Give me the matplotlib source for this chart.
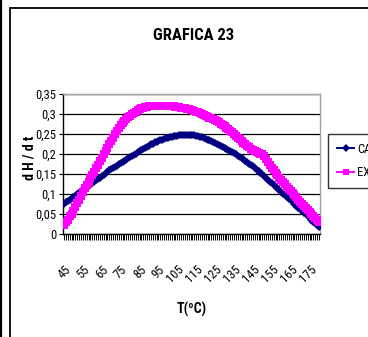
import matplotlib
matplotlib.use("Agg")
import matplotlib.pyplot as plt
from matplotlib import font_manager
from matplotlib.font_manager import FontProperties
from matplotlib.patches import Rectangle
from matplotlib.lines import Line2D

# Temperatures (ºC), one reading per degree
temps = list(range(45, 181))

# Calculated dH/dt
calculada = [
    0.075, 0.079, 0.082, 0.086, 0.089,
    0.093, 0.096, 0.100, 0.103, 0.107,
    0.110, 0.113, 0.117, 0.120, 0.124,
    0.127, 0.131, 0.134, 0.138, 0.141,
    0.145, 0.148, 0.152, 0.155, 0.159,
    0.162, 0.165, 0.168, 0.171, 0.174,
    0.177, 0.180, 0.183, 0.186, 0.189,
    0.192, 0.195, 0.198, 0.201, 0.204,
    0.207, 0.210, 0.213, 0.216, 0.218,
    0.221, 0.224, 0.226, 0.229, 0.231,
    0.233, 0.235, 0.236, 0.238, 0.239,
    0.241, 0.242, 0.243, 0.244, 0.245,
    0.246, 0.247, 0.247, 0.248, 0.248,
    0.248, 0.248, 0.248, 0.247, 0.247,
    0.246, 0.245, 0.243, 0.242, 0.240,
    0.238, 0.236, 0.234, 0.232, 0.230,
    0.228, 0.225, 0.223, 0.220, 0.218,
    0.215, 0.212, 0.210, 0.207, 0.205,
    0.202, 0.199, 0.196, 0.193, 0.190,
    0.187, 0.183, 0.180, 0.176, 0.173,
    0.169, 0.165, 0.161, 0.157, 0.153,
    0.149, 0.145, 0.140, 0.136, 0.131,
    0.127, 0.123, 0.118, 0.114, 0.109,
    0.105, 0.101, 0.097, 0.092, 0.088,
    0.084, 0.080, 0.075, 0.071, 0.066,
    0.062, 0.058, 0.053, 0.049, 0.044,
    0.040, 0.036, 0.031, 0.027, 0.022,
    0.018,
]

# Experimental dH/dt
experimental = [
    0.022, 0.029, 0.036, 0.044, 0.051,
    0.058, 0.067, 0.077, 0.086, 0.096,
    0.105, 0.114, 0.122, 0.131, 0.139,
    0.148, 0.156, 0.165, 0.173, 0.182,
    0.190, 0.199, 0.207, 0.216, 0.224,
    0.233, 0.241, 0.249, 0.257, 0.264,
    0.272, 0.278, 0.283, 0.288, 0.292,
    0.296, 0.300, 0.303, 0.306, 0.309,
    0.312, 0.314, 0.316, 0.317, 0.318,
    0.319, 0.320, 0.320, 0.321, 0.321,
    0.321, 0.321, 0.321, 0.320, 0.320,
    0.320, 0.320, 0.319, 0.319, 0.318,
    0.318, 0.317, 0.316, 0.315, 0.314,
    0.313, 0.312, 0.310, 0.309, 0.307,
    0.306, 0.304, 0.302, 0.300, 0.298,
    0.294, 0.293, 0.291, 0.290, 0.288,
    0.286, 0.283, 0.280, 0.276, 0.273,
    0.270, 0.266, 0.262, 0.258, 0.254,
    0.250, 0.246, 0.241, 0.237, 0.232,
    0.228, 0.224, 0.220, 0.217, 0.213,
    0.210, 0.208, 0.206, 0.203, 0.201,
    0.199, 0.196, 0.188, 0.181, 0.173,
    0.166, 0.159, 0.153, 0.147, 0.140,
    0.134, 0.129, 0.124, 0.118, 0.113,
    0.108, 0.103, 0.097, 0.092, 0.086,
    0.081, 0.076, 0.071, 0.066, 0.061,
    0.056, 0.051, 0.046, 0.041, 0.036,
    0.031,
]

series_names = ["CALCULADA", "EXPERIMENTAL"]
y_ticks = [0, 0.05, 0.1, 0.15, 0.2, 0.25, 0.3, 0.35]
y_tick_labels = ["0", "0,05", "0,1", "0,15", "0,2", "0,25", "0,3", "0,35"]
label_step = 10


def find_narrow(bold):
    """Look for an installed narrow/condensed sans face (regular or bold)."""
    prefs = ["liberationsansnarrow", "arialnarrow", "notosans-condensed",
             "robotocondensed", "opensans-condensed", "opensanscondensed",
             "dejavusanscondensed"]
    files = [f.fname for f in font_manager.fontManager.ttflist]
    for key in prefs:
        for fn in files:
            base = fn.replace("\\", "/").split("/")[-1].lower().replace("_", "")
            if key not in base or "italic" in base or "oblique" in base:
                continue
            if "extra" in base or "semi" in base or "light" in base \
                    or "medium" in base or "black" in base or "thin" in base:
                continue
            is_bold = "bold" in base
            if is_bold == bold:
                return fn
    return None


reg_file = find_narrow(False)
bold_file = find_narrow(True)
if reg_file:
    fp_reg = FontProperties(fname=reg_file)
    scale = 1.0
else:
    fp_reg = FontProperties(family="Liberation Sans")
    scale = 0.88
if bold_file:
    fp_bold = FontProperties(fname=bold_file)
else:
    fp_bold = FontProperties(family="Liberation Sans", weight="bold")


def fp(base, size):
    p = base.copy()
    p.set_size(size * scale)
    return p


W, H = 368, 337
fig = plt.figure(figsize=(W / 100, H / 100), dpi=100)
fig.patch.set_facecolor("white")

# chart-area frame and outer edge line
fig.add_artist(Rectangle((9.5 / W, -0.1), 1.2, 1 - 8.5 / H + 0.1, transform=fig.transFigure,
                         fill=False, edgecolor="black", linewidth=1.3))
fig.add_artist(Line2D([1.0 / W, 1.0 / W], [0, 1], transform=fig.transFigure,
                      color="black", linewidth=1.6))

ax = fig.add_axes([63 / W, 1 - 234 / H, 257 / W, 140 / H])
x = list(range(len(temps)))

ax.plot(x, calculada, color="#000080", marker="D", markersize=4.3, linewidth=1.4,
        markeredgewidth=0, label=series_names[0], zorder=3)
ax.plot(x, experimental, color="#FF00FF", marker="s", markersize=5.4, linewidth=1.4,
        markeredgewidth=0, label=series_names[1], zorder=4)

ax.set_xlim(-0.5, len(temps) - 0.5)
ax.set_ylim(0, 0.35)
ax.set_yticks(y_ticks)
ax.set_yticklabels(y_tick_labels, fontproperties=fp(fp_reg, 9))
ax.yaxis.grid(True, color="black", linewidth=0.9)
ax.set_axisbelow(True)

ax.set_xticks(x)
ax.set_xticklabels([str(t) if i % label_step == 0 else "" for i, t in enumerate(temps)],
                   rotation=45, ha="right", va="top", rotation_mode="anchor",
                   fontproperties=fp(fp_reg, 9))
ax.tick_params(axis="x", length=4, width=0.7, pad=17, direction="out")
ax.tick_params(axis="y", length=3, width=0.8, pad=2)

for s in ("top", "right"):
    ax.spines[s].set_color("#a0a0a0")
    ax.spines[s].set_linewidth(1.0)
for s in ("left", "bottom"):
    ax.spines[s].set_color("black")
    ax.spines[s].set_linewidth(1.0)

fig.text(194 / W, 1 - 36 / H, "GRAFICA 23", ha="center", va="center",
         fontproperties=fp(fp_bold, 12))
fig.text(192 / W, 1 - 309 / H, "T(ºC)", ha="center", va="center",
         fontproperties=fp(fp_bold, 10))
fig.text(30 / W, 1 - 158 / H, "d H / d t", ha="center", va="center",
         rotation=90, fontproperties=fp(fp_bold, 10))

leg = fig.legend(loc="upper left", bbox_to_anchor=(328 / W, 1 - 134 / H),
                 borderaxespad=0, frameon=True, fancybox=False,
                 prop=fp(fp_reg, 9), handlelength=1.4,
                 borderpad=0.7, labelspacing=0.85, handletextpad=0.2,
                 markerscale=0.9)
leg.get_frame().set_edgecolor("black")
leg.get_frame().set_linewidth(1.0)

fig.savefig("out.png", dpi=100)
